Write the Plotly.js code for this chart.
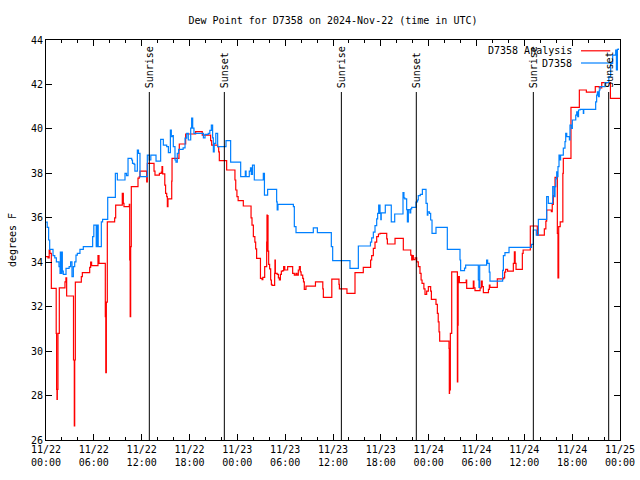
<!DOCTYPE html>
<html>
<head>
<meta charset="utf-8">
<script src="https://cdn.plot.ly/plotly-3.0.1.min.js"></script>
<style>html,body{margin:0;padding:0;background:#fff}#chart{width:640px;height:480px}</style>
</head>
<body>
<div id="chart"></div>
<script>
// Hours since 2024-11-22 00:00 UTC
const analysisTime = [0,0.25,0.4,0.5,0.67,1.28,1.33,1.38,1.42,1.5,1.67,2.38,2.5,2.59,3.45,3.55,3.6,3.68,4.43,4.56,5.48,5.6,5.72,6.52,6.65,7.44,7.5,7.57,7.69,8.61,8.74,9.57,9.7,9.78,10.45,10.5,10.56,10.62,10.7,11.54,11.7,11.79,12.63,12.71,13.55,13.67,14.22,14.46,14.55,14.63,14.9,15.0,15.14,15.22,15.3,15.77,15.81,16.68,16.72,17.52,18.77,19.6,20.65,20.78,21.53,21.66,21.74,22.66,23.7,23.8,23.95,24.1,24.75,25.72,25.84,26.01,26.2,26.3,26.42,26.9,27.1,27.2,27.43,27.68,27.72,27.76,27.8,27.85,27.93,28.05,28.18,28.27,28.35,28.68,28.72,28.77,29.0,29.15,29.27,29.4,29.52,29.7,29.81,29.95,30.31,30.94,31.15,31.35,31.48,31.65,31.78,31.9,32.0,32.2,32.3,32.4,32.61,33.8,34.72,34.79,35.85,36.75,36.8,37.75,38.76,39.8,40.72,40.85,41.06,41.27,41.48,41.7,41.9,42.74,42.82,43.78,44.82,45.75,45.87,45.97,46.08,46.3,46.5,46.7,46.91,47.05,47.17,47.4,47.54,47.75,47.96,48.25,48.34,48.92,49.09,49.2,49.3,49.38,50.55,50.59,50.62,50.72,50.89,51.6,51.65,51.7,51.85,52.7,52.77,53.6,53.68,53.81,54.45,54.6,54.72,54.86,55.5,55.61,55.69,56.61,57.4,57.53,57.66,57.9,58.62,58.75,58.85,58.96,59.75,59.85,60.75,61.63,62.51,62.7,62.8,63.39,63.5,63.64,63.75,63.85,64.14,64.22,64.31,64.5,64.83,64.89,65.85,66.9,67.78,68.9,69.4,69.71,70.8,72];
const analysisDewPt = [34.25,34.2,34.55,34.4,32.82,30.8,28.28,27.83,28.28,30.8,32.85,33.12,33.3,32.48,29.6,26.64,29.6,33.1,33.35,33.53,33.77,34.0,33.85,34.3,33.95,31.55,29.03,32.2,35.82,36.0,36.57,37.1,36.65,36.5,36.6,34.1,31.55,34.7,37.4,37.78,37.85,38.1,37.62,38.45,38.1,37.92,38.0,38.05,38.3,37.98,37.47,37.1,36.95,36.5,36.85,37.65,38.67,39.05,39.32,39.77,39.88,39.72,39.47,39.27,39.2,38.97,38.57,38.15,37.7,37.25,36.95,36.77,36.53,36.0,35.67,35.15,34.9,34.6,34.17,33.27,33.22,33.32,33.8,34.9,36.12,34.5,36.1,34.5,33.9,33.7,33.2,33.0,32.96,33.5,34.1,33.5,33.45,33.3,33.2,33.45,33.6,33.62,33.8,33.65,33.8,33.5,33.42,33.5,33.42,33.65,33.8,33.57,33.42,33.27,33.12,32.78,32.92,33.12,32.8,32.42,33.24,33.0,32.8,32.6,33.53,33.77,34.1,34.3,34.62,34.9,35.15,35.27,35.3,35.05,34.82,35.07,34.55,34.32,34.1,34.3,34.12,34.2,34.02,33.8,33.5,33.2,33.05,32.8,32.55,32.7,32.9,32.7,32.33,32.1,31.7,31.32,30.87,30.45,30.12,28.1,28.25,30.8,33.57,28.62,31.17,33.35,33.08,33.2,32.82,33.15,32.85,32.72,32.85,33.15,32.9,32.63,32.78,32.97,32.87,33.25,33.3,33.55,33.68,33.6,33.95,34.47,33.95,33.68,34.4,34.55,35.63,35.22,35.5,35.85,36.35,36.28,36.6,37.0,37.4,37.82,35.3,33.3,35.6,35.82,38.0,38.67,40.97,41.75,41.65,41.9,41.85,42.08,41.37,41.37];

const obsTime = [0,0.15,0.33,0.46,0.88,1.1,1.3,1.63,1.76,1.8,1.85,1.9,1.95,2.0,2.05,2.17,2.51,2.9,3.09,3.26,3.43,3.6,3.76,3.93,4.26,4.68,5.85,6.0,6.3,6.4,6.55,6.94,7.1,7.74,8.7,8.95,9.78,9.91,10.1,10.29,10.75,10.85,11.05,11.15,11.46,11.6,11.79,12.71,12.95,13.15,13.8,14.38,14.72,15.14,15.35,15.6,15.72,15.89,15.97,16.18,16.3,16.47,16.64,17.2,17.44,17.65,17.85,18.15,18.27,18.4,18.56,19.74,19.95,20.35,20.55,20.74,20.9,20.99,21.1,21.3,21.53,22.58,23.16,24.42,25.0,25.1,25.5,25.65,25.75,25.9,26.13,27.26,27.4,27.8,28.93,29.0,29.1,31.03,31.15,31.36,33.37,33.53,34.04,35.79,35.96,38.13,39.18,40.56,40.7,40.85,41.06,41.27,41.48,41.6,41.73,41.8,41.85,41.9,42.0,42.05,42.56,43.31,43.74,44.78,44.9,45.0,45.24,45.33,45.45,45.65,45.75,45.87,46.41,46.6,46.7,46.95,47.21,47.67,47.83,47.9,48.1,48.25,48.42,48.92,50.34,51.93,52.01,52.5,52.64,54.23,54.31,54.4,55.27,55.4,55.6,55.69,57.28,57.37,57.57,58.08,60.9,61.13,61.5,61.76,62.8,63.01,63.56,63.75,63.85,63.95,64.06,64.14,64.22,64.35,64.47,64.55,64.89,65.1,65.19,65.32,65.65,65.73,65.94,66.02,66.45,66.57,66.7,66.8,66.99,67.4,67.45,68.95,69.07,69.16,69.3,69.4,69.49,70.12,70.6,70.83,71.08,71.46,71.55,71.67,71.8];
const obsDewPt = [35.8,35.57,35.0,34.58,34.3,34.2,34.02,33.8,33.5,34.45,33.5,34.45,33.5,34.45,33.6,33.45,33.72,33.8,34.02,33.35,33.8,34.02,34.32,34.4,34.58,34.7,35.15,35.67,34.7,35.67,34.7,35.82,35.93,36.92,38.0,37.7,37.7,38.0,37.9,38.67,38.6,38.45,38.4,38.1,39.05,38.9,37.85,38.82,38.6,38.82,38.55,39.53,39.27,39.2,38.93,39.95,39.65,39.7,39.2,38.6,38.5,38.9,39.08,39.15,39.58,39.8,39.5,40.03,40.48,40.03,39.8,39.6,39.75,39.8,39.93,40.17,39.6,38.97,39.35,39.8,39.2,39.47,38.5,37.85,38.1,37.85,38.1,38.25,37.95,38.37,37.7,38.0,37.02,37.28,36.72,36.35,36.6,36.5,35.6,35.33,35.33,35.55,35.33,34.7,34.07,33.72,34.73,34.73,34.9,35.1,35.35,35.65,35.95,36.2,36.57,36.2,36.57,36.22,35.92,36.22,36.57,35.82,36.17,37.13,36.9,36.85,36.37,35.82,36.37,36.22,36.4,36.47,36.71,36.8,37.0,37.05,37.28,36.65,36.12,36.27,36.2,35.9,35.3,35.57,34.58,34.1,33.62,33.73,33.87,33.2,32.87,33.87,34.1,33.95,33.55,33.15,33.63,34.3,34.43,34.67,34.8,35.45,35.22,35.93,36.95,36.65,37.4,36.95,37.4,37.75,38.07,37.85,38.3,38.82,38.6,38.82,39.13,39.43,39.8,39.65,39.5,40.17,40.02,40.4,40.62,40.77,40.55,40.85,40.88,40.7,40.88,41.22,41.52,41.67,41.45,41.75,41.9,42.08,42.35,42.95,43.32,43.55,42.65,43.58,43.62];

const eventNames = ["Sunrise","Sunset","Sunrise","Sunset","Sunrise","Sunset"];
const eventTimes = [12.96,22.37,37.05,46.45,61.13,70.58];

const xTickVals = [0,6,12,18,24,30,36,42,48,54,60,66,72];
const xTickLabels = ["11/22<br>00:00","11/22<br>06:00","11/22<br>12:00","11/22<br>18:00","11/23<br>00:00","11/23<br>06:00","11/23<br>12:00","11/23<br>18:00","11/24<br>00:00","11/24<br>06:00","11/24<br>12:00","11/24<br>18:00","11/25<br>00:00"];

const seriesNames = ["D7358 Analysis","D7358"];
const seriesColors = ["#ff0000","#0080ff"];

const FONT = {family: "DejaVu Sans Mono, Liberation Mono, monospace", size: 10, color: "#000"};

const traces = [
  {x: analysisTime, y: analysisDewPt, name: seriesNames[0], type: "scatter", mode: "lines",
   line: {color: seriesColors[0], width: 1.2, shape: "hv"}},
  {x: obsTime, y: obsDewPt, name: seriesNames[1], type: "scatter", mode: "lines",
   line: {color: seriesColors[1], width: 1.2, shape: "hv"}}
];

const shapes = [];
const annotations = [];
eventTimes.forEach((t, i) => {
  shapes.push({type: "line", xref: "x", yref: "paper", x0: t, x1: t, y0: 0, y1: 0.87,
               line: {color: "#000", width: 1}});
  annotations.push({x: t, xref: "x", y: 0.875, yref: "paper", text: eventNames[i],
                    textangle: -90, showarrow: false, xanchor: "center", yanchor: "bottom", font: FONT});
});
// legend (gnuplot style: text then line sample)
const legY = [0.973, 0.9425];
seriesNames.forEach((n, i) => {
  annotations.push({x: 0.92, xref: "paper", y: legY[i], yref: "paper", text: n, showarrow: false,
                    xanchor: "right", yanchor: "middle", font: FONT});
  shapes.push({type: "line", xref: "paper", yref: "paper", x0: 0.932, x1: 0.983, y0: legY[i], y1: legY[i],
               line: {color: seriesColors[i], width: 1.2}});
});

const layout = {
  width: 640, height: 480,
  margin: {l: 46, r: 20, t: 40, b: 40},
  paper_bgcolor: "#fff", plot_bgcolor: "#fff",
  showlegend: false,
  font: FONT,
  title: {text: "Dew Point for D7358 on 2024-Nov-22 (time in UTC)", font: FONT,
          x: 0.5, xref: "paper", xanchor: "center", y: 1 - 20/480, yref: "container", yanchor: "middle"},
  xaxis: {range: [0, 72], tickmode: "array", tickvals: xTickVals, ticktext: xTickLabels,
          ticks: "inside", ticklen: 6, tickcolor: "#000", mirror: "ticks", showline: true,
          linecolor: "#000", linewidth: 1, showgrid: false, zeroline: false, tickfont: FONT,
          minor: {tickmode: "linear", tick0: 0, dtick: 2, ticks: "inside", ticklen: 3, tickcolor: "#000", showgrid: false}},
  yaxis: {range: [26, 44], tickmode: "linear", tick0: 26, dtick: 2,
          ticks: "inside", ticklen: 6, tickcolor: "#000", mirror: "ticks", showline: true,
          linecolor: "#000", linewidth: 1, showgrid: false, zeroline: false, tickfont: FONT,
          title: {text: "degrees F", font: FONT, standoff: 12}},
  shapes: shapes,
  annotations: annotations
};

Plotly.newPlot("chart", traces, layout, {staticPlot: true, displayModeBar: false});
</script>
</body>
</html>
